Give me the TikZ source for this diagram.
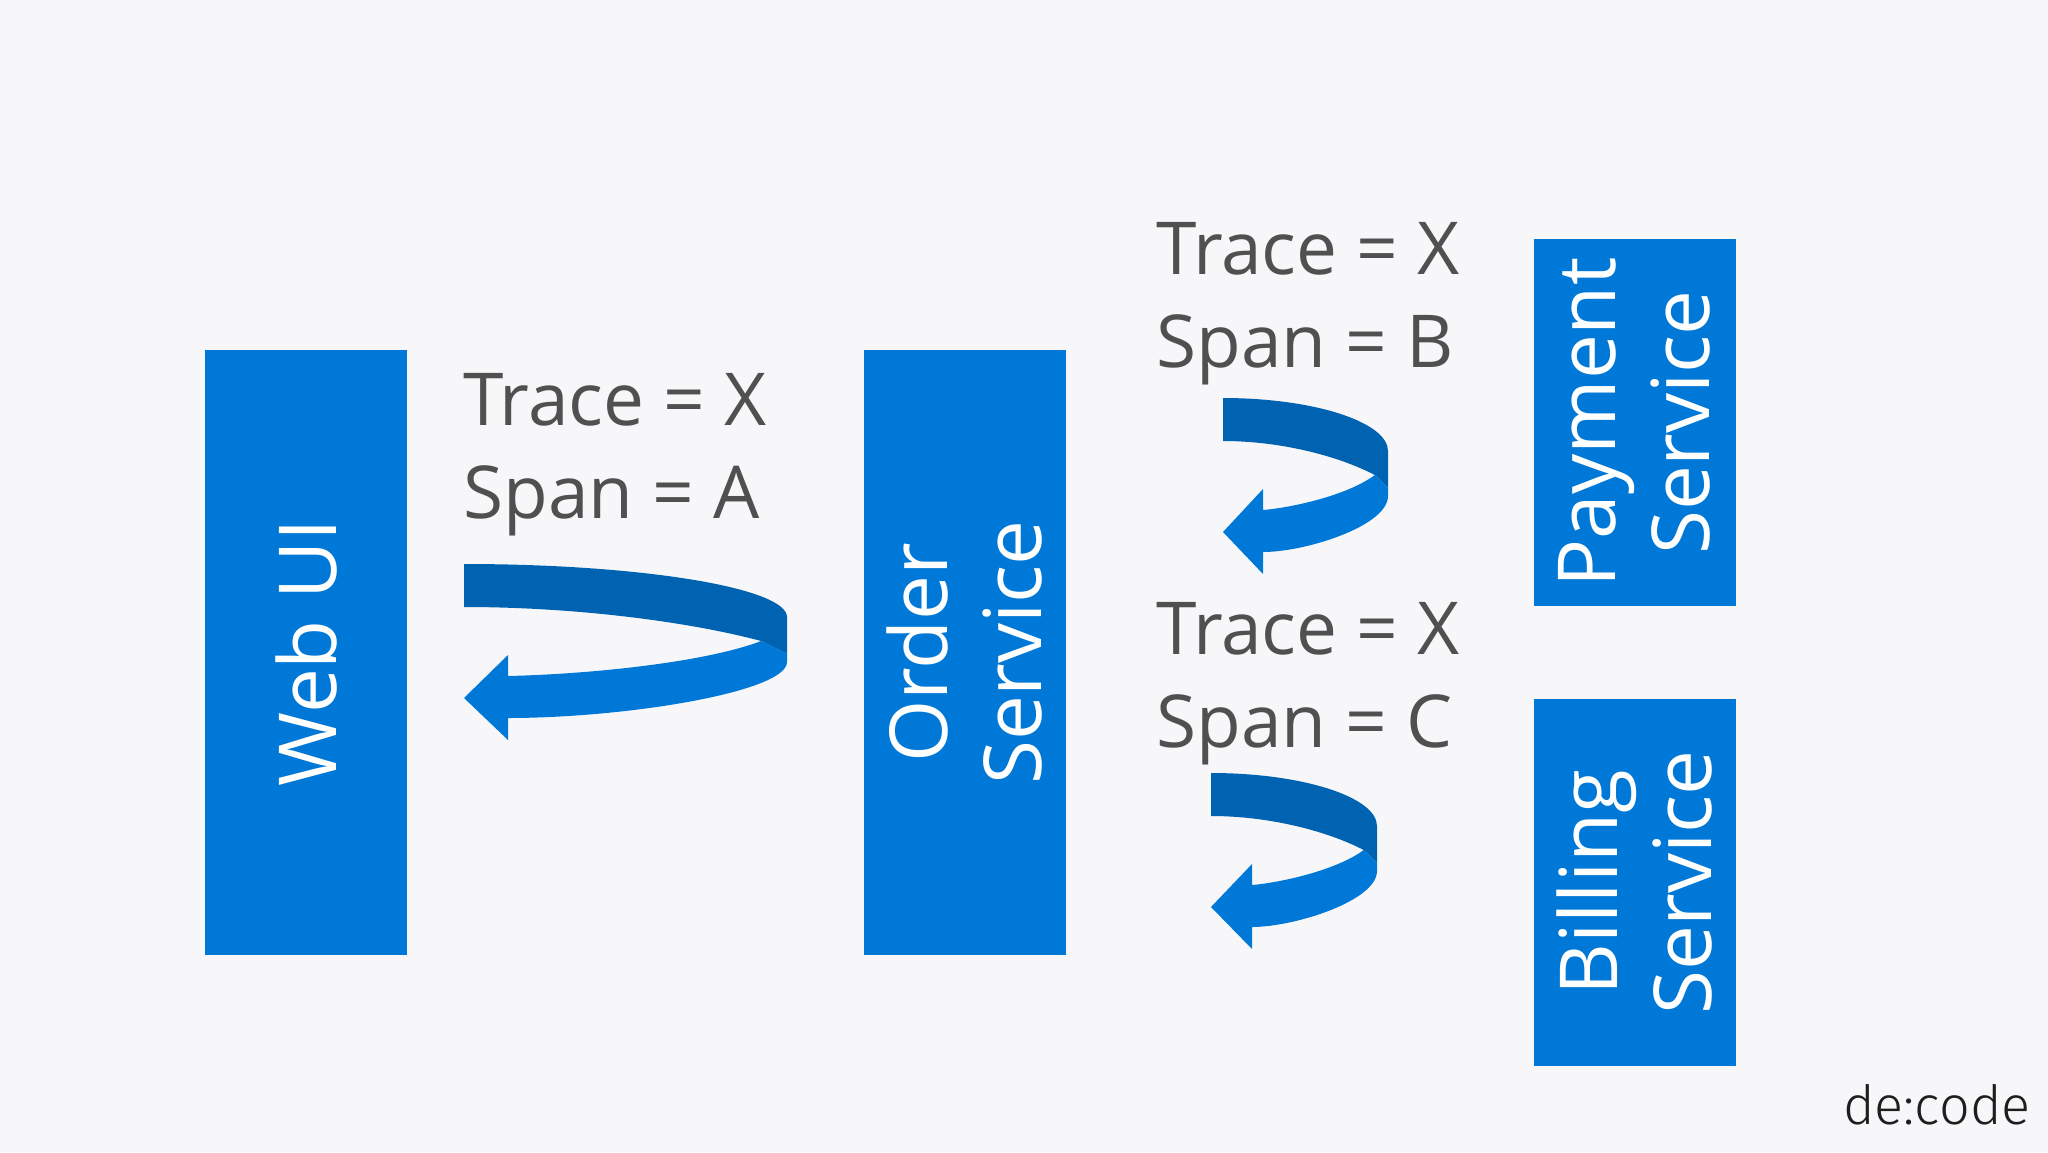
\documentclass[tikz,border=0pt]{standalone}
\usepackage{fontspec}
\setmainfont{Open Sans}
\newfontfamily\lightfont{Fira Sans Light}
\definecolor{bg}{HTML}{F7F7F9}
\definecolor{boxblue}{HTML}{0078D7}
\definecolor{darkblue}{HTML}{0063B1}
\definecolor{txt}{HTML}{505050}
\definecolor{logo}{HTML}{1E1E1E}
\newcommand\uturn[4]{%
\begin{scope}[shift={(#1,#2)}]
\fill[darkblue] (0,0) .. controls ({0.55*#3},0) and (#3,24) .. (#3,53) -- (#3,90) -- ({0.92*#3},77) .. controls ({0.7*#3},58) and ({0.35*#3},43) .. (0,43) -- cycle;
\fill[boxblue] ({0.92*#3},77) -- (#3,90) -- (#3,98) .. controls (#3,128) and ({0.5*#3},154) .. (#4,154) -- (#4,176) -- (0,134) -- (#4,91) -- (#4,112) .. controls ({0.4*#3},110) and ({0.75*#3},98) .. ({0.92*#3},77) -- cycle;
\end{scope}}
\begin{document}
\begin{tikzpicture}[x=1pt,y=-1pt,
  svc/.style={fill=boxblue, draw=none, inner sep=0pt, minimum width=202pt},
  svctext/.style={text=white, rotate=90, align=center, inner sep=0pt, font=\fontsize{80}{94}\selectfont},
  lbl/.style={text=txt, anchor=base west, inner sep=0pt, font=\fontsize{73}{88}\selectfont}]
\fill[bg] (0,0) rectangle (2048,1152);
\useasboundingbox (0,0) rectangle (2048,1152);
% boxes
\node[svc, minimum height=605pt] (web) at (306,652.5) {};
\node[svc, minimum height=605pt] (order) at (964.5,652.5) {};
\node[svc, minimum height=367pt] (pay) at (1634.5,422.5) {};
\node[svc, minimum height=367pt] (bill) at (1634.5,882.5) {};
\node[svctext] (webt) at (web.center) {Web UI};
\node[svctext] (ordert) at (order.center) {Order\\Service};
\node[svctext] (payt) at (pay.center) {Payment\\Service};
\node[svctext] (billt) at (bill.center) {Billing\\Service};
% labels
\node[lbl] (ta) at (463,425) {Trace = X};
\node[lbl] (sa) at (463,518) {Span = A};
\node[lbl] (tb) at (1156,274) {Trace = X};
\node[lbl] (sb) at (1156,367) {Span = B};
\node[lbl] (tc) at (1156,654) {Trace = X};
\node[lbl] (sc) at (1156,747) {Span = C};
% u-turn arrows
\uturn{464}{564}{323}{44}
\uturn{1223}{398}{165}{40}
\uturn{1211}{773}{166}{41}
% logo
\node[anchor=base west, inner sep=0pt, text=logo, font=\lightfont\fontsize{54}{60}\selectfont] (logo) at (1843,1124) {de:code};
\end{tikzpicture}
\end{document}
